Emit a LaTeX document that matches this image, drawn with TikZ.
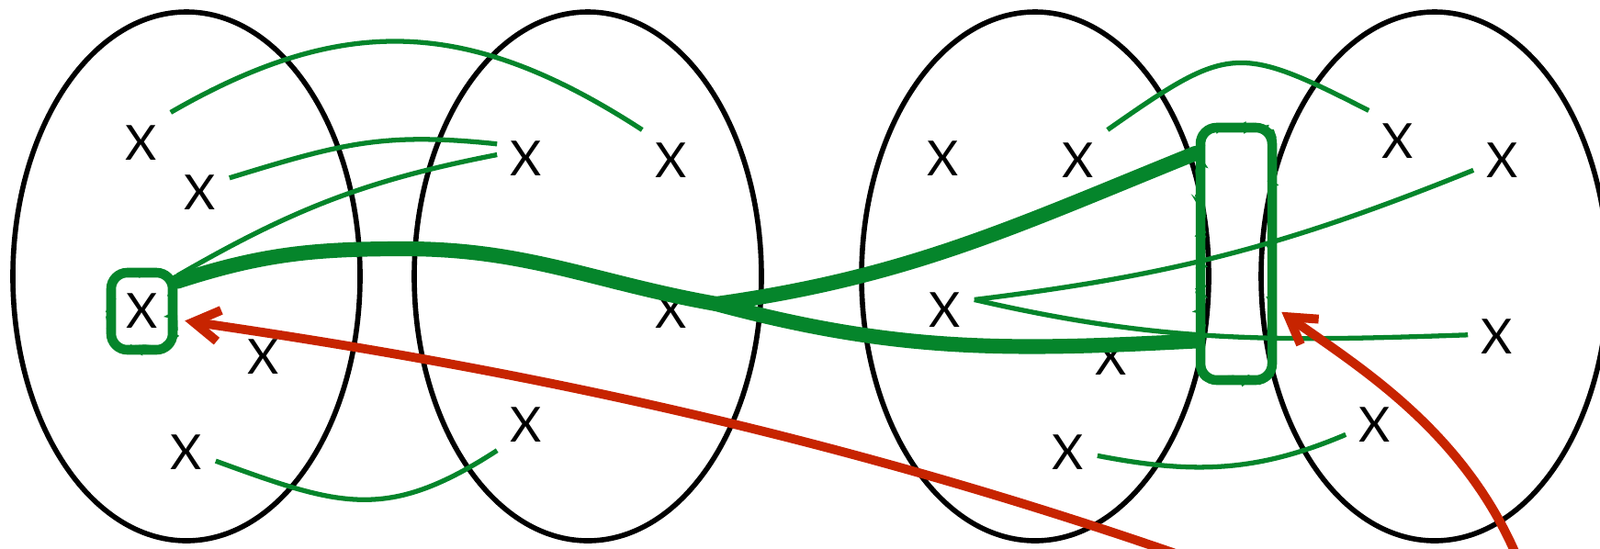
\documentclass[tikz,border=0pt]{standalone}
\usepackage{fontspec}
\setmainfont{Lato}
\usepackage{xcolor}
\definecolor{setgreen}{rgb}{0.02, 0.52, 0.17}
\definecolor{pointred}{rgb}{0.78, 0.14, 0.0}
\usepackage{tikz}
\usetikzlibrary{arrows.meta,decorations.pathmorphing}
\tikzset{
  >={Straight Barb[length=0.28cm,width=0.34cm]},
  setline/.style={draw=black,line width=1.6pt},
  elem/.style={font=\fontsize{15}{16}\selectfont,inner sep=0.14cm},
  link/.style={draw=setgreen,line width=1.5pt},
  fuzz/.style={postaction={draw=setgreen,line width=1.3pt,sharp corners,decorate,
    decoration={random steps,segment length=1.4pt,amplitude=1pt}}},
  scribble/.style={draw=setgreen,line width=4.6pt,line cap=round,line join=round,fuzz},
  roughbox/.style={draw=setgreen,line width=3pt,rounded corners=5pt,fuzz},
  pointer/.style={->,draw=pointred,line width=2.8pt}
}

\begin{document}
\begin{tikzpicture}
  \useasboundingbox (0,0) rectangle (17.42,-5.97);

  % Sets
  \foreach \cx in {2.03,6.40,11.27,15.62}
    \draw[setline] (\cx,-3.01) ellipse [x radius=1.89, y radius=2.88];

  % Elements
  \node[elem] (a1) at (1.54,-1.56) {X};
  \node[elem] (a2) at (2.18,-2.10) {X};
  \node[elem,roughbox,inner sep=0pt,minimum width=0.67cm,minimum height=0.84cm] (a3) at (1.545,-3.39) {X};
  \node[elem] (a4) at (2.87,-3.89) {X};
  \node[elem] (a5) at (2.03,-4.93) {X};

  \node[elem] (b1) at (5.73,-1.73) {X};
  \node[elem] (b2) at (7.31,-1.75) {X};
  \node[elem] (b3) at (7.31,-3.39) {X};
  \node[elem] (b4) at (5.73,-4.63) {X};

  \node[elem] (c1) at (10.27,-1.73) {X};
  \node[elem] (c2) at (11.74,-1.75) {X};
  \node[elem] (c3) at (10.29,-3.38) {X};
  \node[elem] (c4) at (12.10,-3.90) {X};
  \node[elem] (c5) at (11.63,-4.93) {X};

  \node[elem] (d1) at (15.22,-1.54) {X};
  \node[elem] (d2) at (16.36,-1.75) {X};
  \node[elem] (d3) at (16.30,-3.67) {X};
  \node[elem] (d4) at (14.97,-4.63) {X};

  % Cut
  \node[roughbox,minimum width=0.78cm,minimum height=2.75cm] (cut) at (13.46,-2.765) {};

  % Links
  \draw[link] (a1.north east) to[out=30,in=147,looseness=1.1] (b2.north west);
  \draw[link] (a2.27) to[out=17,in=174,looseness=1.1] (b1.153);
  \draw[link] (a3.45) to[out=30,in=191] (b1.172);
  \draw[link] (a5.-16) to[out=-20,in=213,looseness=1.2] (b4.221);
  \draw[link] (c2.north east) to[out=35,in=153,looseness=1.45] (d1.north west);
  \draw[link] (c3.20) to[out=7,in=202] (d2.198);
  \draw[link] (c3.20) to[out=-13,in=182] (d3.176);
  \draw[link] (c5.-6) to[out=-11,in=203] (d4.198);

  % Path through the cut
  \coordinate (fork) at (7.8,-3.31);
  \draw[scribble] (a3.40) to[out=18,in=180] (4.4,-2.71) to[out=0,in=170] (fork);
  \draw[scribble] (fork) to[out=8,in=202] (cut.112);
  \draw[scribble] (fork) to[out=-15,in=183] (cut.245);

  % Pointers
  \coordinate (r1) at (13.0,-6.1);
  \coordinate (r2) at (16.53,-6.1);
  \draw[pointer] (r1) .. controls (9.0,-4.7) and (5.5,-4.0) .. ([xshift=0.8mm]a3.-15);
  \draw[pointer] (r2) .. controls (15.95,-4.7) and (14.8,-4.0) .. ([xshift=0.5mm]cut.-55);
\end{tikzpicture}
\end{document}
